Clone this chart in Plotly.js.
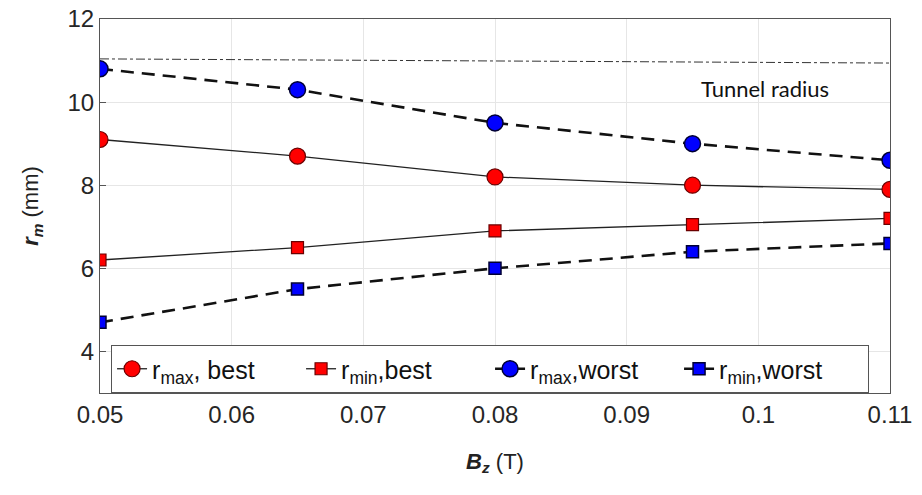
<!DOCTYPE html>
<html>
<head>
<meta charset="utf-8">
<script src="https://cdn.plot.ly/plotly-3.0.1.min.js"></script>
<style>html,body{margin:0;padding:0;background:#fff;}#chart{width:922px;height:495px;}</style>
</head>
<body>
<div id="chart"></div>
<script>
// Data
const bz = [0.05, 0.065, 0.08, 0.095, 0.11];
const rmaxBest = [9.1, 8.7, 8.2, 8.0, 7.9];
const rminBest = [6.2, 6.5, 6.9, 7.05, 7.2];
const rmaxWorst = [10.8, 10.3, 9.5, 9.0, 8.6];
const rminWorst = [4.7, 5.5, 6.0, 6.4, 6.6];
const tunnelX = [0.05, 0.11];
const tunnelY = [11.04, 10.94];
const xTicks = [0.05, 0.06, 0.07, 0.08, 0.09, 0.1, 0.11];
const xTickText = ['0.05', '0.06', '0.07', '0.08', '0.09', '0.1', '0.11'];
const yTicks = [4, 6, 8, 10, 12];

const traces = [
  {x: tunnelX, y: tunnelY, mode: 'lines', showlegend: false, hoverinfo: 'skip',
   line: {color: '#333', width: 1, dash: 'dashdot'}},
  {x: bz, y: rmaxBest, name: 'r<sub>max</sub>, best', mode: 'lines+markers',
   line: {color: '#222', width: 1.3},
   marker: {symbol: 'circle', size: 16, color: '#ff0000', line: {color: '#6a0000', width: 1.2}}},
  {x: bz, y: rminBest, name: 'r<sub>min</sub>,best', mode: 'lines+markers',
   line: {color: '#222', width: 1.3},
   marker: {symbol: 'square', size: 12, color: '#ff0000', line: {color: '#6a0000', width: 1.2}}},
  {x: bz, y: rmaxWorst, name: 'r<sub>max</sub>,worst', mode: 'lines+markers',
   line: {color: '#111', width: 2.6, dash: '13px,8px'},
   marker: {symbol: 'circle', size: 16, color: '#0000ff', line: {color: '#000033', width: 1.5}}},
  {x: bz, y: rminWorst, name: 'r<sub>min</sub>,worst', mode: 'lines+markers',
   line: {color: '#111', width: 2.6, dash: '13px,8px'},
   marker: {symbol: 'square', size: 12, color: '#0000ff', line: {color: '#000033', width: 1.5}}}
];

const layout = {
  width: 922, height: 495,
  margin: {l: 100, r: 32, t: 19, b: 102},
  paper_bgcolor: '#fff', plot_bgcolor: '#fff',
  font: {family: 'Liberation Sans, Arial, sans-serif', color: '#262626'},
  xaxis: {
    range: [0.05, 0.11], tickvals: xTicks, ticktext: xTickText,
    showgrid: true, gridcolor: '#e6e6e6', gridwidth: 1,
    showline: true, linecolor: '#555', linewidth: 1, mirror: true,
    ticks: 'inside', ticklen: 6, tickcolor: '#555',
    zeroline: false, tickfont: {size: 24, color: '#262626'},
    title: {text: '<b><i>B<sub>z</sub></i></b> (T)', font: {size: 22, color: '#222'}, standoff: 26}
  },
  yaxis: {
    range: [3, 12], tickvals: yTicks,
    showgrid: true, gridcolor: '#e6e6e6', gridwidth: 1,
    showline: true, linecolor: '#555', linewidth: 1, mirror: true,
    ticks: 'inside', ticklen: 6, tickcolor: '#555',
    zeroline: false, tickfont: {size: 24, color: '#262626'},
    title: {text: '<b><i>r<sub>m</sub></i></b> (mm)', font: {size: 22, color: '#222'}, standoff: 22}
  },
  legend: {
    orientation: 'h', x: 0.014, y: 0.0, xanchor: 'left', yanchor: 'bottom',
    bgcolor: '#fff', bordercolor: '#555', borderwidth: 1,
    font: {size: 25, color: '#111'}, itemwidth: 30, entrywidth: 144, tracegroupgap: 0
  },
  annotations: [
    {x: 0.1005, y: 10.32, xref: 'x', yref: 'y', text: 'Tunnel radius', showarrow: false,
     font: {family: 'Lato, Open Sans, sans-serif', size: 22, color: '#111'}}
  ]
};

Plotly.newPlot('chart', traces, layout, {displayModeBar: false, staticPlot: true});
</script>
</body>
</html>
